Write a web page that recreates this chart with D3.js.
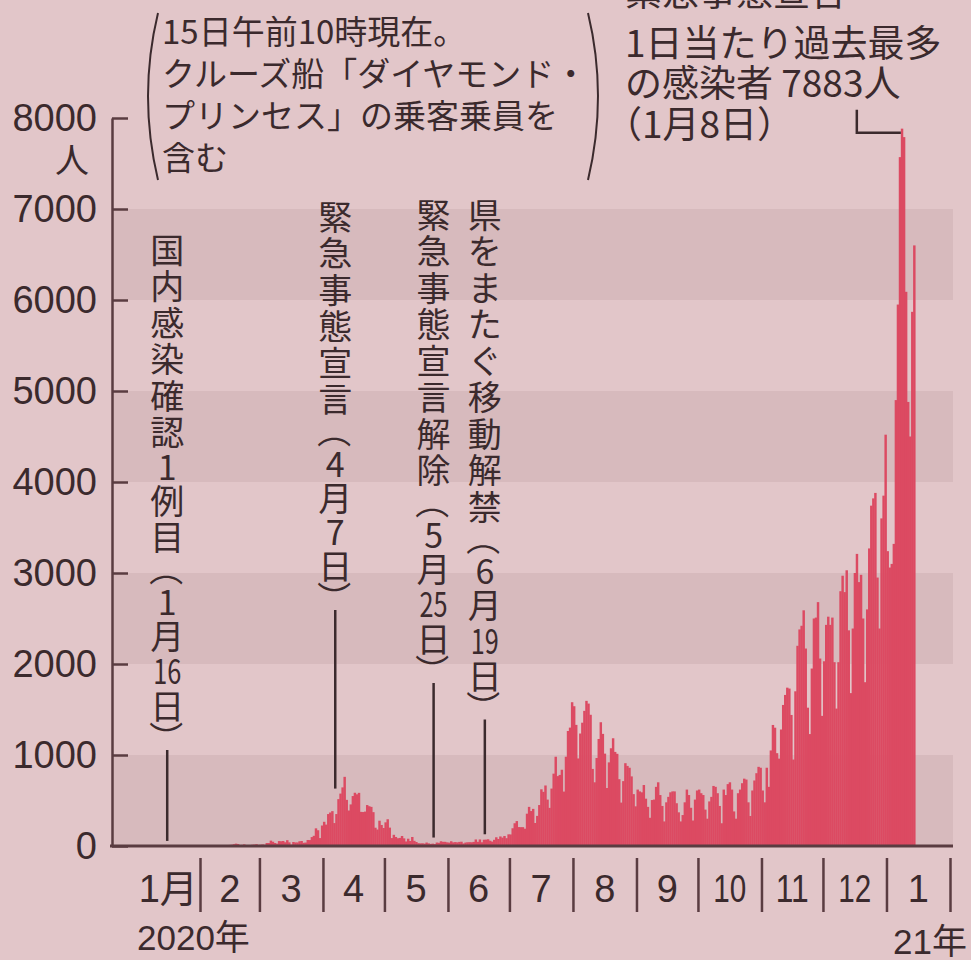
<!DOCTYPE html>
<html lang="ja">
<head>
<meta charset="utf-8">
<script src="https://cdn.jsdelivr.net/npm/d3@7"></script>
<style>
  html, body { margin: 0; padding: 0; background: #e2c6c9; }
  svg { display: block; }
</style>
</head>
<body>
<div id="chart"></div>
<script>
// Daily new cases in Japan (incl. cruise ship), one array per month
const jan20 = [0,0,0,0,0,0,0,0,0,0,0,0,0,0,0,1,0,0,0,0,0,0,0,1,1,1,0,3,1,3,5]
const feb20 = [2,0,0,0,3,2,5,1,2,6,0,4,6,2,12,14,20,26,22,10,12,18,8,6,10,14,16,20,12]
const mar20 = [14,17,13,33,33,59,47,33,26,54,52,55,41,64,40,15,44,39,39,52,55,35,38,66,65,98,112,194,173,87,225]
const apr20 = [266,235,351,368,383,252,351,515,576,644,760,507,390,457,549,585,568,584,375,373,378,450,437,430,372,201,181,278,231,198]
const may20 = [260,294,202,87,123,99,85,89,110,84,50,80,55,99,57,44,31,29,30,26,38,29,23,26,21,38,35,52,46,46,40]
const jun20 = [37,52,40,43,40,45,47,28,38,41,42,41,45,72,46,72,41,69,70,74,58,48,68,96,77,105,92,110,86,128]
const jul20 = [127,195,250,274,208,207,207,190,355,430,384,408,253,331,450,623,595,665,510,419,631,795,981,768,781,838,598,981,1264,1301,1580]
const aug20 = [1536,1331,962,1236,1355,1485,1595,1565,1442,847,700,967,1176,1360,1232,1015,637,919,1074,1184,1034,1013,734,477,713,910,880,860,765,570,436]
const sep20 = [620,600,590,670,520,430,310,505,510,650,700,560,440,270,480,540,590,600,600,470,370,270,340,480,620,560,420,280,510,610]
const oct20 = [620,580,560,400,300,490,540,660,650,580,440,250,620,560,680,700,620,380,300,580,620,690,740,730,480,330,610,720,800,870,860]
const nov20 = [610,480,860,650,1050,1330,1300,1020,960,1280,1550,1660,1740,1730,1440,950,1700,2200,2380,2420,2590,2170,1520,1230,1950,2500,2510,2680,2060,1430]
const dec20 = [2030,2430,2520,2430,2510,2020,1510,2020,2800,2970,2790,3030,2370,1680,2390,3000,3210,2900,2980,2500,1800,2600,3270,3740,3820,3880,2950,2390,3600,3850,4520]
const jan21 = [3240,3060,3100,3320,4900,5950,7570,7883,7790,6090,4880,4500,5870,6600]

const monthLabels = ['1月', '2', '3', '4', '5', '6', '7', '8', '9', '10', '11', '12', '1']
const yTicks = [0, 1000, 2000, 3000, 4000, 5000, 6000, 7000, 8000]
const yearLabels = ['2020年', '21年']

const noteLines = ['15日午前10時現在。', 'クルーズ船「ダイヤモンド・', 'プリンセス」の乗客乗員を', '含む']
const peakLines = ['緊急事態宣言', '1日当たり過去最多', 'の感染者 7883人', '（1月8日）']
const peakDate = [2021, 0, 8]

const eventDates = [[2020, 0, 16], [2020, 3, 7], [2020, 4, 25], [2020, 5, 19]]
const eventTexts = ['国内感染確認1例目（1月16日）', '緊急事態宣言（4月7日）', '緊急事態宣言解除（5月25日）', '県をまたぐ移動解禁（6月19日）']

// Colours and fonts
const bg = '#e2c6c9'
const band = '#d7babd'
const barColor = '#dc4a62'
const ink = '#3b2a2d'
const axisInk = '#5a3c41'
const latin = "'Liberation Sans', 'Noto Sans CJK JP', sans-serif"
const cjk = "'Noto Sans CJK JP', sans-serif"

const width = 971
const height = 960

const svg = d3.select('#chart')
  .append('svg')
    .attr('width', width)
    .attr('height', height)

svg.append('rect')
    .attr('width', width)
    .attr('height', height)
    .attr('fill', bg)

// Scales
const x = d3.scaleUtc()
  .domain([Date.UTC(2020, 1, 1), Date.UTC(2021, 1, 1)])
  .range([200, 950])
const y = d3.scaleLinear()
  .domain([0, 8000])
  .range([846, 118])

const utc = d => new Date(Date.UTC(d[0], d[1], d[2]))

// Flatten months into daily records
const daily = [jan20, feb20, mar20, apr20, may20, jun20, jul20, aug20, sep20, oct20, nov20, dec20, jan21]
  .flatMap((arr, m) => arr.map((v, i) => ({ date: new Date(Date.UTC(2020, m, i + 1)), value: v })))

// Alternating bands
const bandStops = yTicks.slice(0, -1).filter((t, i) => i % 2 === 0)
svg.append('g')
  .selectAll('rect')
  .data(bandStops)
  .enter()
  .append('rect')
    .attr('x', 113)
    .attr('width', 953 - 113)
    .attr('y', d => y(d + 1000))
    .attr('height', d => y(d) - y(d + 1000))
    .attr('fill', band)

// Bars
svg.append('g')
  .selectAll('rect')
  .data(daily.filter(d => d.value > 0))
  .enter()
  .append('rect')
    .attr('x', d => x(d.date))
    .attr('width', d => x(d3.utcDay.offset(d.date, 1)) - x(d.date) + 0.4)
    .attr('y', d => y(d.value))
    .attr('height', d => y(0) - y(d.value))
    .attr('fill', barColor)

// Y axis
const yAxis = svg.append('g')
    .attr('transform', 'translate(112,0)')
    .call(d3.axisLeft(y)
      .tickValues(yTicks)
      .tickFormat(d => String(d))
      .tickSize(-16)
      .tickSizeOuter(0)
      .tickPadding(15))
yAxis.select('.domain').attr('stroke', axisInk).attr('stroke-width', 2.5)
yAxis.selectAll('.tick line').attr('stroke', axisInk).attr('stroke-width', 2.5)
yAxis.selectAll('.tick text')
    .attr('fill', ink)
    .attr('font-family', latin)
    .attr('font-size', 38)
svg.append('text')
    .attr('x', 72)
    .attr('y', 173)
    .attr('text-anchor', 'middle')
    .attr('font-family', cjk)
    .attr('font-size', 34)
    .attr('fill', ink)
    .text('人')

// X axis: month separators
const xAxis = svg.append('g')
    .attr('transform', `translate(0,${y(0)})`)
    .call(d3.axisBottom(x)
      .tickValues(d3.utcMonth.range(Date.UTC(2020, 1, 1), Date.UTC(2021, 1, 2)))
      .tickFormat('')
      .tickSizeOuter(0))
xAxis.select('.domain').remove()
xAxis.selectAll('.tick line')
    .attr('y1', 12)
    .attr('y2', 66)
    .attr('stroke', axisInk)
    .attr('stroke-width', 2.5)

svg.append('line')
    .attr('x1', 110)
    .attr('x2', 953)
    .attr('y1', y(0))
    .attr('y2', y(0))
    .attr('stroke', axisInk)
    .attr('stroke-width', 3)

// Month labels
const monthStarts = d3.utcMonth.range(Date.UTC(2020, 0, 1), Date.UTC(2021, 1, 1))
svg.append('g')
  .selectAll('text')
  .data(monthStarts)
  .enter()
  .append('text')
    .attr('x', d => (x(d) + x(d3.utcMonth.offset(d, 1))) / 2)
    .attr('y', 902)
    .attr('text-anchor', 'middle')
    .attr('font-family', latin)
    .attr('font-size', 38)
    .attr('fill', ink)
    .each(function (d, i) {
      const label = monthLabels[i]
      d3.select(this).text(label)
      if (/^\d\d$/.test(label)) {
        d3.select(this).attr('textLength', 33).attr('lengthAdjust', 'spacingAndGlyphs')
      }
    })

svg.append('text')
    .attr('x', 137)
    .attr('y', 950)
    .attr('font-family', latin)
    .attr('font-size', 35)
    .attr('fill', ink)
    .text(yearLabels[0])
svg.append('text')
    .attr('x', 967)
    .attr('y', 954)
    .attr('text-anchor', 'end')
    .attr('font-family', latin)
    .attr('font-size', 35)
    .attr('fill', ink)
    .text(yearLabels[1])

// Event annotations (vertical text)
const tokenize = s => s.match(/\d+|./g)
const advance = t => /[（）]/.test(t) ? 30 : /^\d$/.test(t) ? 32 : /^\d\d$/.test(t) ? 34 : 36.5
const annotTop = [230, 197, 195, 195]

eventTexts.forEach((label, k) => {
  const date = utc(eventDates[k])
  const cx = x(date)
  const g = svg.append('g')
  let cursor = annotTop[k]
  tokenize(label).forEach(t => {
    const cy = cursor + advance(t) / 2
    const txt = g.append('text')
        .attr('x', cx)
        .attr('y', cy)
        .attr('text-anchor', 'middle')
        .attr('dominant-baseline', 'central')
        .attr('font-family', cjk)
        .attr('font-size', 34)
        .attr('fill', ink)
        .text(t)
    if (/[（）]/.test(t)) txt.attr('transform', `rotate(90,${cx},${cy})`)
    if (/^\d\d$/.test(t)) txt.attr('textLength', 28).attr('lengthAdjust', 'spacingAndGlyphs')
    cursor += advance(t)
  })
  // leader line down to just above the bars
  const near = daily.filter(d => Math.abs(d.date - date) <= 2 * 864e5)
  const top = d3.max(near, d => d.value)
  g.append('line')
      .attr('x1', cx)
      .attr('x2', cx)
      .attr('y1', cursor - 3)
      .attr('y2', y(top) - 5)
      .attr('stroke', ink)
      .attr('stroke-width', 2.5)
})

// Note in large parentheses
const note = svg.append('g')
note.selectAll('text')
  .data(noteLines)
  .enter()
  .append('text')
    .attr('x', 162)
    .attr('y', (d, i) => 44 + i * 42)
    .attr('font-family', cjk)
    .attr('font-size', 33)
    .attr('fill', ink)
    .text(d => d)
note.append('path')
    .attr('d', 'M158,13 Q138,96 158,180')
    .attr('fill', 'none')
    .attr('stroke', ink)
    .attr('stroke-width', 2)
note.append('path')
    .attr('d', 'M588,13 Q608,96 588,180')
    .attr('fill', 'none')
    .attr('stroke', ink)
    .attr('stroke-width', 2)

// Peak annotation
const peak = svg.append('g')
peak.selectAll('text')
  .data(peakLines)
  .enter()
  .append('text')
    .attr('x', d => d.startsWith('（') ? 605 : 625)
    .attr('y', (d, i) => i === 0 ? 6 : 16 + i * 40.5)
    .attr('font-family', cjk)
    .attr('font-size', 37)
    .attr('fill', ink)
    .text(d => d)

const px = x(utc(peakDate))
const py = y(7883)
peak.append('path')
    .attr('d', `M${px - 44},${py - 19} V${py + 4} H${px}`)
    .attr('fill', 'none')
    .attr('stroke', ink)
    .attr('stroke-width', 2.5)
</script>
</body>
</html>
